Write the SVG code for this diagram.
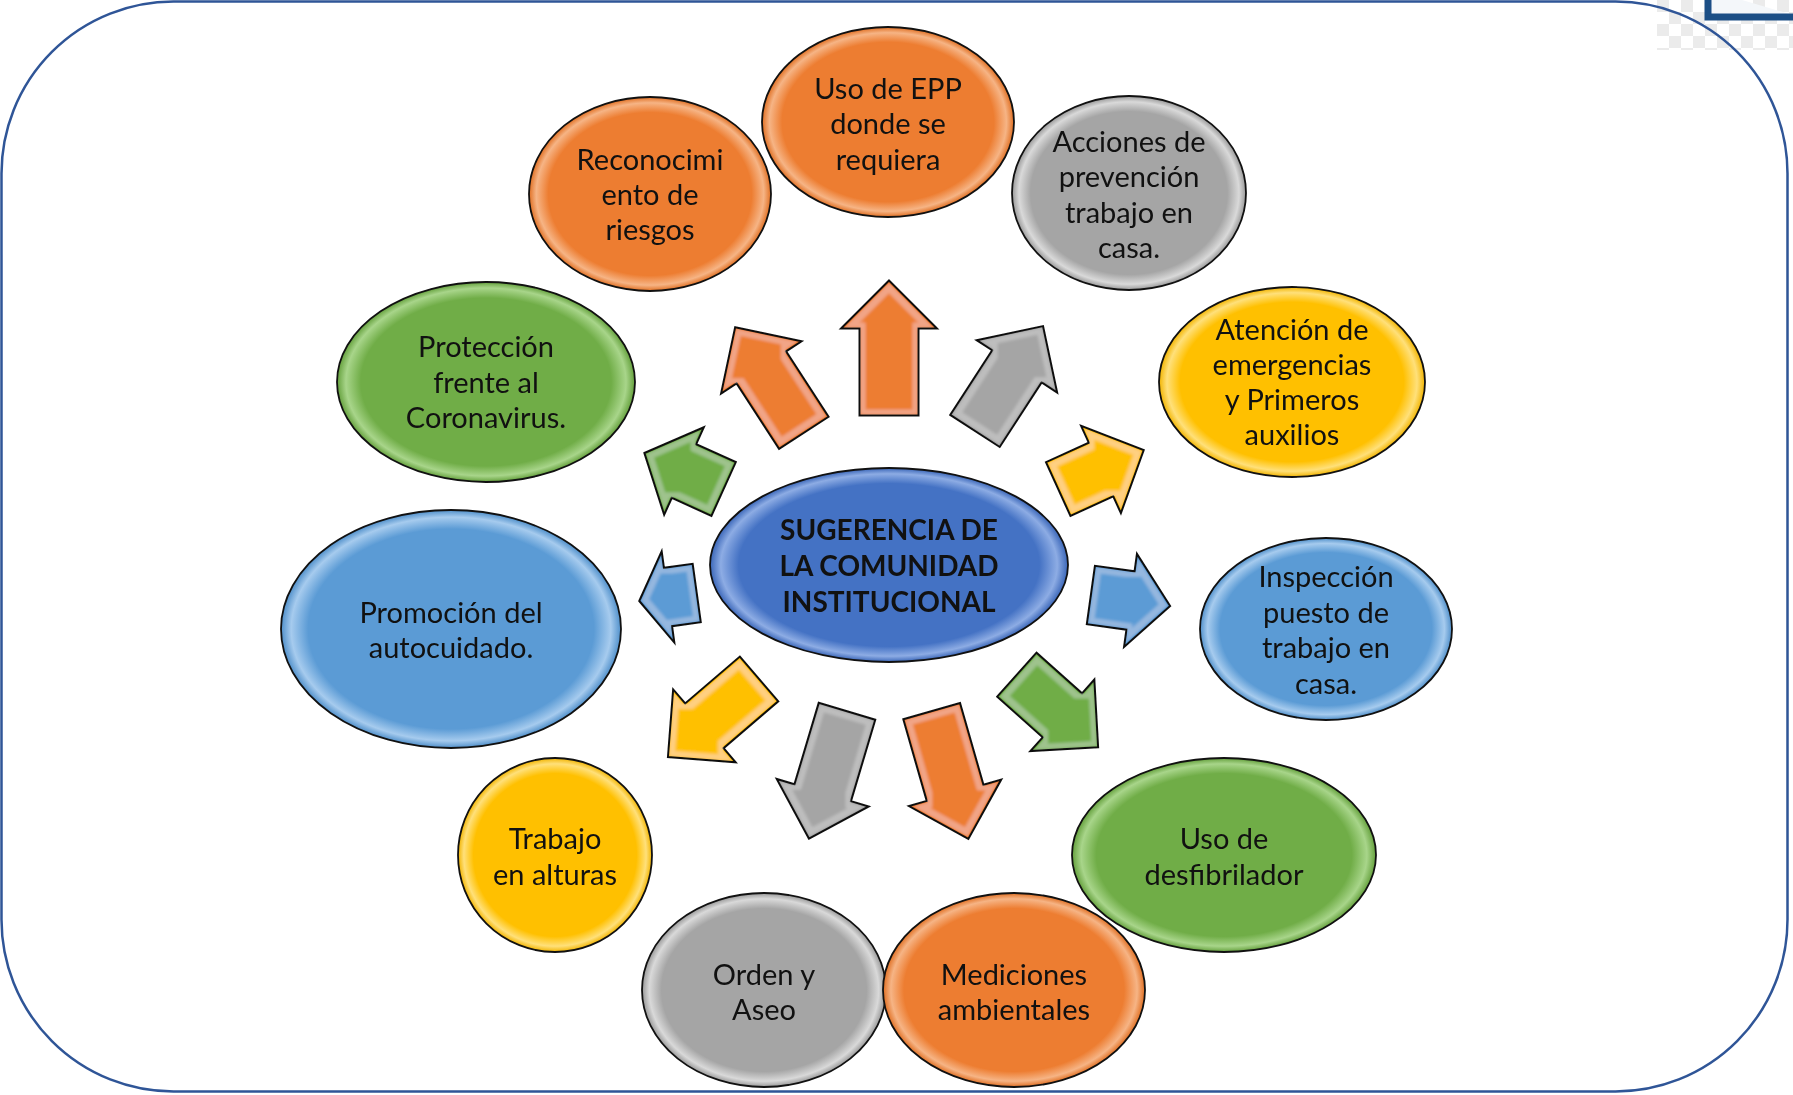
<svg xmlns="http://www.w3.org/2000/svg" width="1793" height="1095" viewBox="0 0 1793 1095">
<style>
.frame{fill:none;stroke:#2F5597;stroke-width:2.5}
.el{stroke:#111;stroke-width:1.8}
.ar{stroke:#111;stroke-width:2;stroke-linejoin:miter}
.t{font-family:Lato,"Liberation Sans",sans-serif;font-size:29px;fill:#111;text-anchor:middle}
.tc{font-family:Lato,"Liberation Sans",sans-serif;font-size:28px;font-weight:bold;fill:#111;text-anchor:middle}
.o{fill:url(#gO)}.g{fill:url(#gG)}.y{fill:url(#gY)}.n{fill:url(#gN)}.b{fill:url(#gB)}.c{fill:url(#gC)}
.ao{fill:#ED7D31}.ag{fill:#A5A5A5}.ay{fill:#FFC000}.an{fill:#70AD47}.ab{fill:#5B9BD5}
</style>
<defs>
<filter id="bevel" filterUnits="userSpaceOnUse" x="580" y="230" width="620" height="640">
<feMorphology in="SourceAlpha" operator="erode" radius="2" result="e1"/>
<feMorphology in="SourceAlpha" operator="erode" radius="7" result="e2"/>
<feComposite in="e1" in2="e2" operator="out" result="rim"/>
<feGaussianBlur in="rim" stdDeviation="1.5" result="rimb"/>
<feFlood flood-color="#fff" flood-opacity="0.22"/>
<feComposite in2="rimb" operator="in" result="hl"/>
<feComposite in="hl" in2="e1" operator="in" result="hl2"/>
<feMerge><feMergeNode in="SourceGraphic"/><feMergeNode in="hl2"/></feMerge>
</filter>
<pattern id="chk" width="24" height="24" patternUnits="userSpaceOnUse" x="1657" y="0">
<rect width="24" height="24" fill="#fff"/>
<rect width="12" height="12" fill="#EBEBEB"/>
<rect x="12" y="12" width="12" height="12" fill="#EBEBEB"/>
</pattern>
<radialGradient id="gO"><stop offset="0" stop-color="#ED7D31"/><stop offset="0.84" stop-color="#ED7D31"/><stop offset="0.94" stop-color="#F6B485"/><stop offset="1" stop-color="#E06F22"/></radialGradient>
<radialGradient id="gG"><stop offset="0" stop-color="#A5A5A5"/><stop offset="0.84" stop-color="#A5A5A5"/><stop offset="0.94" stop-color="#D9D9D9"/><stop offset="1" stop-color="#989898"/></radialGradient>
<radialGradient id="gY"><stop offset="0" stop-color="#FFC000"/><stop offset="0.84" stop-color="#FFC000"/><stop offset="0.94" stop-color="#FFE07A"/><stop offset="1" stop-color="#F2B400"/></radialGradient>
<radialGradient id="gN"><stop offset="0" stop-color="#70AD47"/><stop offset="0.84" stop-color="#70AD47"/><stop offset="0.94" stop-color="#A8D58A"/><stop offset="1" stop-color="#64A03C"/></radialGradient>
<radialGradient id="gB"><stop offset="0" stop-color="#5B9BD5"/><stop offset="0.84" stop-color="#5B9BD5"/><stop offset="0.94" stop-color="#A6CBEE"/><stop offset="1" stop-color="#4F8FCA"/></radialGradient>
<radialGradient id="gC"><stop offset="0" stop-color="#4472C4"/><stop offset="0.84" stop-color="#4472C4"/><stop offset="0.94" stop-color="#8DACE4"/><stop offset="1" stop-color="#3A66B8"/></radialGradient>
</defs>
<rect width="1793" height="1095" fill="#fff"/>
<g id="corner-deco">
<rect x="1657" y="0" width="136" height="50" fill="url(#chk)"/>
<path d="M1708,-10 V17 H1800" fill="#F4F7FA" stroke="#1C4F86" stroke-width="7"/>
</g>
<rect class="frame" x="1.5" y="1.5" width="1786" height="1090" rx="172" ry="172"/>

<g id="connectors" filter="url(#bevel)">
<path class="ar ao" transform="translate(889,348)" d="M0,-67.5 L48,-19.5 L29.5,-19.5 L29.5,67.5 L-29.5,67.5 L-29.5,-19.5 L-48,-19.5 Z"/>
<path class="ar ao" transform="translate(769.5,380) rotate(-33)" d="M0,-63 L48,-15 L29.5,-15 L29.5,63 L-29.5,63 L-29.5,-15 L-48,-15 Z"/>
<path class="ar ag" transform="translate(1009,378.5) rotate(33)" d="M0,-62.5 L48,-14.5 L29.5,-14.5 L29.5,62.5 L-29.5,62.5 L-29.5,-14.5 L-48,-14.5 Z"/>
<path class="ar an" transform="translate(684,471) rotate(-65.6)" d="M0,-43.5 L48,0 L29.5,0 L29.5,43.5 L-29.5,43.5 L-29.5,0 L-48,0 Z"/>
<path class="ar ay" transform="translate(1101,469.5) rotate(65.5)" d="M0,-47 L48,0 L29.5,0 L29.5,47 L-29.5,47 L-29.5,0 L-48,0 Z"/>
<path class="ar ab" transform="translate(668,597) rotate(-97.9)" d="M0,-29 L46,0 L29.5,0 L29.5,29 L-29.5,29 L-29.5,0 L-46,0 Z"/>
<path class="ar ab" transform="translate(1130.5,600.5) rotate(97.9)" d="M0,-40 L47,0 L29.5,0 L29.5,40 L-29.5,40 L-29.5,0 L-47,0 Z"/>
<path class="ar ay" transform="translate(713.5,718) rotate(-130.6)" d="M0,-60 L48,-12 L29.5,-12 L29.5,60 L-29.5,60 L-29.5,-12 L-48,-12 Z"/>
<path class="ar an" transform="translate(1057.5,711) rotate(131.8)" d="M0,-54.5 L48,-6.5 L29.5,-6.5 L29.5,54.5 L-29.5,54.5 L-29.5,-6.5 L-48,-6.5 Z"/>
<path class="ar ag" transform="translate(828,775) rotate(-163.4)" d="M0,-66.5 L48,-18.5 L29.5,-18.5 L29.5,66.5 L-29.5,66.5 L-29.5,-18.5 L-48,-18.5 Z"/>
<path class="ar ao" transform="translate(950,775) rotate(164)" d="M0,-66.5 L48,-18.5 L29.5,-18.5 L29.5,66.5 L-29.5,66.5 L-29.5,-18.5 L-48,-18.5 Z"/>
</g>

<g id="node-center">
<ellipse class="el c" cx="889" cy="565" rx="179" ry="97"/>
<text class="tc" x="889" y="540">SUGERENCIA DE</text>
<text class="tc" x="889" y="576">LA COMUNIDAD</text>
<text class="tc" x="889" y="612">INSTITUCIONAL</text>
</g>
<g id="node-epp">
<ellipse class="el o" cx="888" cy="122" rx="126" ry="95"/>
<text class="t" x="888" y="99">Uso de EPP</text>
<text class="t" x="888" y="134">donde se</text>
<text class="t" x="888" y="170">requiera</text>
</g>
<g id="node-riesgos">
<ellipse class="el o" cx="650" cy="194" rx="121" ry="97"/>
<text class="t" x="650" y="170">Reconocimi</text>
<text class="t" x="650" y="205">ento de</text>
<text class="t" x="650" y="240">riesgos</text>
</g>
<g id="node-acciones">
<ellipse class="el g" cx="1129" cy="193" rx="117" ry="97"/>
<text class="t" x="1129" y="152">Acciones de</text>
<text class="t" x="1129" y="187">prevención</text>
<text class="t" x="1129" y="223">trabajo en</text>
<text class="t" x="1129" y="258">casa.</text>
</g>
<g id="node-emergencias">
<ellipse class="el y" cx="1292" cy="382" rx="133" ry="95"/>
<text class="t" x="1292" y="340">Atención de</text>
<text class="t" x="1292" y="375">emergencias</text>
<text class="t" x="1292" y="410">y Primeros</text>
<text class="t" x="1292" y="445">auxilios</text>
</g>
<g id="node-coronavirus">
<ellipse class="el n" cx="486" cy="382" rx="149" ry="100"/>
<text class="t" x="486" y="357">Protección</text>
<text class="t" x="486" y="393">frente al</text>
<text class="t" x="486" y="428">Coronavirus.</text>
</g>
<g id="node-autocuidado">
<ellipse class="el b" cx="451" cy="629" rx="170" ry="119"/>
<text class="t" x="451" y="623">Promoción del</text>
<text class="t" x="451" y="658">autocuidado.</text>
</g>
<g id="node-inspeccion">
<ellipse class="el b" cx="1326" cy="629" rx="126" ry="91"/>
<text class="t" x="1326" y="587">Inspección</text>
<text class="t" x="1326" y="623">puesto de</text>
<text class="t" x="1326" y="658">trabajo en</text>
<text class="t" x="1326" y="694">casa.</text>
</g>
<g id="node-alturas">
<ellipse class="el y" cx="555" cy="855" rx="97" ry="97"/>
<text class="t" x="555" y="849">Trabajo</text>
<text class="t" x="555" y="885">en alturas</text>
</g>
<g id="node-desfibrilador">
<ellipse class="el n" cx="1224" cy="855" rx="152" ry="97"/>
<text class="t" x="1224" y="849">Uso de</text>
<text class="t" x="1224" y="885">desfibrilador</text>
</g>
<g id="node-orden">
<ellipse class="el g" cx="764" cy="990" rx="122" ry="97"/>
<text class="t" x="764" y="985">Orden y</text>
<text class="t" x="764" y="1020">Aseo</text>
</g>
<g id="node-mediciones">
<ellipse class="el o" cx="1014" cy="990" rx="131" ry="97"/>
<text class="t" x="1014" y="985">Mediciones</text>
<text class="t" x="1014" y="1020">ambientales</text>
</g>
</svg>
